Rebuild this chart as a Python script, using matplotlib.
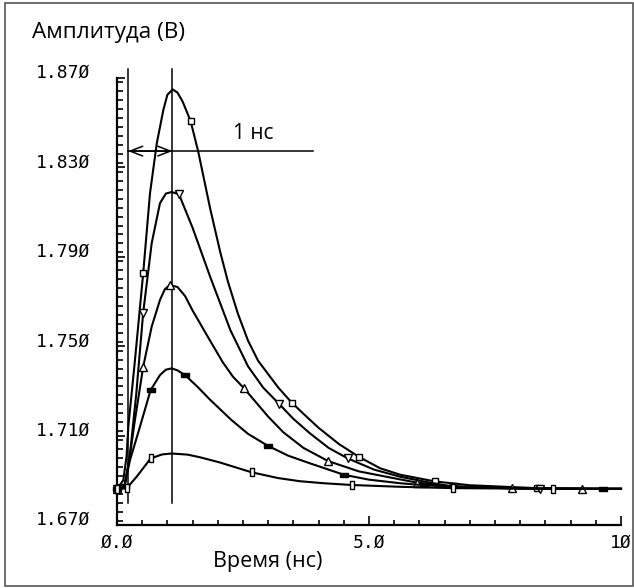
import matplotlib

matplotlib.use("Agg")

import matplotlib.pyplot as plt
from matplotlib.patches import Rectangle
from matplotlib.ticker import MultipleLocator


OUTPUT_FILE = "out.png"

curve1_time = [0.0, 0.125, 0.19, 0.225, 0.357, 0.52, 0.655, 0.79, 0.92, 1.0,
               1.105, 1.2, 1.3, 1.46, 1.61, 1.85, 2.05, 2.2, 2.4, 2.6, 2.8,
               3.0, 3.2, 3.47, 3.76, 4.0, 4.4, 4.8, 5.22, 5.62, 6.31, 7.0,
               8.33, 9.64, 10.0]
curve1_ampl = [1.6862, 1.690, 1.7006, 1.714, 1.7438, 1.7826, 1.8184, 1.8408,
               1.8557, 1.8625, 1.8649, 1.8635, 1.8596, 1.8508, 1.8373, 1.8115,
               1.792, 1.779, 1.7645, 1.7525, 1.7435, 1.7375, 1.7315, 1.7247,
               1.7185, 1.7135, 1.7063, 1.7005, 1.6954, 1.6925, 1.6895, 1.6878,
               1.6865, 1.6862, 1.6862]
curve1_marks = [0.0, 0.52, 1.46, 3.47, 4.8, 6.31, 8.33]

curve2_time = [0.0, 0.15, 0.25, 0.38, 0.52, 0.688, 0.853, 0.97, 1.085, 1.23,
               1.5, 1.85, 2.25, 2.6, 2.9, 3.22, 3.5, 3.83, 4.2, 4.58, 5.1,
               5.62, 6.2, 6.67, 7.5, 8.4, 10.0]
curve2_ampl = [1.6862, 1.6875, 1.700, 1.728, 1.765, 1.796, 1.814, 1.8183,
               1.819, 1.818, 1.803, 1.781, 1.7572, 1.741, 1.7315, 1.7241,
               1.7175, 1.711, 1.7045, 1.6998, 1.6948, 1.6916, 1.689, 1.6872,
               1.6866, 1.6863, 1.6862]
curve2_marks = [0.0, 0.52, 1.23, 3.22, 4.58, 6.67, 8.4]

curve3_time = [0.0, 0.15, 0.25, 0.35, 0.52, 0.688, 0.853, 0.95, 1.05, 1.2,
               1.35, 1.5, 1.8, 2.1, 2.3, 2.52, 3.0, 3.3, 3.7, 4.19, 4.8, 5.62,
               5.95, 6.5, 7.83, 9.22, 10.0]
curve3_ampl = [1.6862, 1.6875, 1.700, 1.716, 1.7408, 1.7587, 1.7707, 1.7755,
               1.7774, 1.7765, 1.7725, 1.766, 1.7543, 1.7428, 1.7364, 1.7312,
               1.7185, 1.7115, 1.7045, 1.6986, 1.694, 1.6904, 1.689, 1.6875,
               1.6864, 1.6862, 1.6862]
curve3_marks = [0.0, 0.52, 1.05, 2.52, 4.19, 5.95, 7.83, 9.22]

curve4_time = [0.0, 0.15, 0.258, 0.456, 0.668, 0.853, 0.97, 1.085, 1.2, 1.35,
               1.6, 1.85, 2.27, 2.6, 2.99, 3.4, 3.83, 4.5, 5.0, 5.62, 6.1,
               7.0, 8.0, 9.64, 10.0]
curve4_ampl = [1.6862, 1.6875, 1.699, 1.714, 1.7304, 1.7371, 1.7395, 1.7401,
               1.7392, 1.7371, 1.7318, 1.726, 1.717, 1.7108, 1.7055, 1.701,
               1.6976, 1.6925, 1.6903, 1.6887, 1.6878, 1.6868, 1.6864, 1.6862,
               1.6862]
curve4_marks = [0.0, 0.15, 0.668, 1.35, 2.99, 4.5, 6.1, 9.64]

curve5_time = [0.0, 0.19, 0.39, 0.668, 0.9, 1.085, 1.4, 1.65, 2.04, 2.67, 3.2,
               3.63, 4.1, 4.67, 5.62, 6.67, 8.65, 10.0]
curve5_ampl = [1.6862, 1.6864, 1.6916, 1.6998, 1.7016, 1.702, 1.7015, 1.7003,
               1.698, 1.6936, 1.691, 1.6896, 1.6887, 1.6879, 1.6871, 1.6865,
               1.6862, 1.6862]
curve5_marks = [0.0, 0.19, 0.668, 2.67, 4.67, 6.67, 8.65]

y_ticks = [1.670, 1.710, 1.750, 1.790, 1.830, 1.870]
y_tick_labels = ["1.67Ø", "1.71Ø", "1.75Ø", "1.79Ø", "1.83Ø", "1.87Ø"]
x_ticks = [0.0, 5.0, 10.0]
x_tick_labels = ["Ø.Ø", "5.Ø", "1Ø"]

# Вертикальные маркеры и метка интервала
cursor_left = 0.22
cursor_right = 1.1
cursor_span = (1.68, 1.874)
interval_level = 1.8373
interval_line_end = 3.89
interval_label = "1 нс"

TEXT_FONT = ["Open Sans", "DejaVu Sans"]
TICK_FONT = "DejaVu Sans Mono"

# вертикальный прямоугольник и плоский прямоугольник для маркеров
V_RECT = [(-0.45, -1), (0.45, -1), (0.45, 1), (-0.45, 1), (-0.45, -1)]
H_RECT = [(-1, -0.5), (1, -0.5), (1, 0.5), (-1, 0.5), (-1, -0.5)]


def main() -> None:
    figure = plt.figure(figsize=(6.34, 5.88), dpi=100)
    axis = figure.add_axes([0.1845, 0.1071, 0.795, 0.7602])

    series = [
        (curve1_time, curve1_ampl, curve1_marks, "s", 5.0, "white"),
        (curve2_time, curve2_ampl, curve2_marks, "v", 5.5, "white"),
        (curve3_time, curve3_ampl, curve3_marks, "^", 5.5, "white"),
        (curve4_time, curve4_ampl, curve4_marks, H_RECT, 5.5, "black"),
        (curve5_time, curve5_ampl, curve5_marks, V_RECT, 5.5, "white"),
    ]

    for times, values, marks, marker, size, face in series:
        indices = [times.index(mark) for mark in marks]
        axis.plot(
            times,
            values,
            color="black",
            linewidth=1.5,
            solid_joinstyle="round",
            marker=marker,
            markersize=size,
            markerfacecolor=face,
            markeredgecolor="black",
            markeredgewidth=1.0,
            markevery=indices,
            clip_on=False,
            zorder=3,
        )

    for position in (cursor_left, cursor_right):
        axis.plot(
            [position, position],
            cursor_span,
            color="black",
            linewidth=1.1,
            clip_on=False,
            zorder=2,
        )

    axis.plot(
        [cursor_left, interval_line_end],
        [interval_level, interval_level],
        color="black",
        linewidth=1.1,
        clip_on=False,
    )
    axis.annotate(
        "",
        xy=(cursor_left, interval_level),
        xytext=(cursor_right, interval_level),
        arrowprops=dict(
            arrowstyle="<->,head_length=0.9,head_width=0.35",
            color="black",
            linewidth=1.1,
            shrinkA=0,
            shrinkB=0,
        ),
    )
    axis.text(
        2.7,
        1.8405,
        interval_label,
        ha="center",
        va="bottom",
        fontsize=15,
        family=TEXT_FONT,
    )

    axis.set_xlim(0, 10)
    axis.set_ylim(1.670, 1.870)

    axis.spines["top"].set_visible(False)
    axis.spines["right"].set_visible(False)
    axis.spines["left"].set_linewidth(1.6)
    axis.spines["bottom"].set_linewidth(1.6)

    axis.set_xticks(x_ticks)
    axis.set_xticklabels(x_tick_labels, family=TICK_FONT, fontsize=13)
    axis.set_yticks(y_ticks)
    axis.set_yticklabels(y_tick_labels, family=TICK_FONT, fontsize=13)
    axis.xaxis.set_minor_locator(MultipleLocator(0.5))
    axis.yaxis.set_minor_locator(MultipleLocator(0.004))

    axis.tick_params(axis="both", which="both", direction="in", width=1.2)
    axis.tick_params(axis="x", which="major", length=6.5, pad=6)
    axis.tick_params(axis="x", which="minor", length=3.6)
    axis.tick_params(axis="y", which="major", length=5.5, pad=19)
    axis.tick_params(axis="y", which="minor", length=4)
    for label in axis.get_yticklabels():
        label.set_va("baseline")

    figure.text(
        0.05,
        0.935,
        "Амплитуда (В)",
        fontsize=16.2,
        family=TEXT_FONT,
        va="baseline",
    )
    figure.text(
        0.423,
        0.036,
        "Время (нс)",
        fontsize=15.5,
        family=TEXT_FONT,
        ha="center",
        va="baseline",
    )

    figure.add_artist(
        Rectangle(
            (0.008, 0.003),
            0.99,
            0.992,
            transform=figure.transFigure,
            fill=False,
            edgecolor="#555555",
            linewidth=1.2,
        )
    )

    figure.savefig(OUTPUT_FILE, dpi=100)


if __name__ == "__main__":
    main()
